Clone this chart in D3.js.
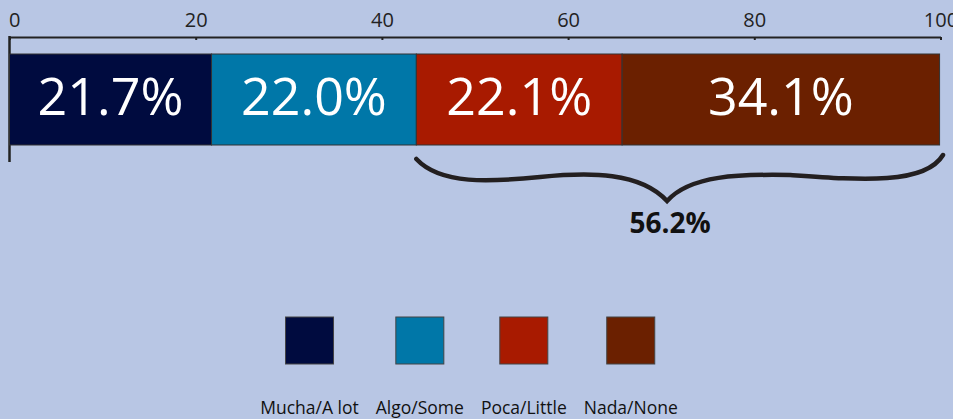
<!DOCTYPE html>
<html><head><meta charset="utf-8">
<script src="https://cdn.jsdelivr.net/npm/d3@7"></script>
<style>
html,body{margin:0;padding:0;background:#b8c6e4;}
svg{display:block;font-family:"Open Sans",sans-serif;}
</style></head>
<body><svg id="c" width="953" height="419"></svg>
<script>
const categories = ["Mucha/A lot","Algo/Some","Poca/Little","Nada/None"];
const values = [21.7, 22.0, 22.1, 34.1];
const colors = ["#000b3f","#0077a8","#a81a00","#6b2000"];
const tickValues = [0,20,40,60,80,100];
const braceLabel = "56.2%";

const svg = d3.select("#c");
const W = 953, H = 419;
svg.append("rect").attr("width",W).attr("height",H).attr("fill","#b8c6e4");

const x = d3.scaleLinear().domain([0,100]).range([9.5,940.5]);
const barTop = 54, barBot = 145;

let acc = 0;
const stack = values.map((v,i)=>{const s={cat:categories[i],v,x0:acc,x1:acc+v,c:colors[i]};acc+=v;return s;});

// axis
const axisG = svg.append("g").attr("transform","translate(0,37)");
const axis = d3.axisTop(x).tickValues(tickValues).tickSize(0).tickPadding(10).tickFormat(d3.format("d"));
axisG.call(axis);
axisG.select(".domain").attr("stroke","#222").attr("stroke-width",2);
axisG.selectAll(".tick line").remove();
axisG.selectAll(".tick").append("line").attr("y1",0).attr("y2",3).attr("stroke","#222").attr("stroke-width",2);
axisG.selectAll(".tick text").attr("font-size",20).attr("fill","#222").attr("font-family","'Open Sans',sans-serif");
axisG.selectAll(".tick text").filter(d=>d===0).attr("text-anchor","start").attr("x",-1);
svg.append("line").attr("x1",x(0)).attr("x2",x(0)).attr("y1",36).attr("y2",162).attr("stroke","#222").attr("stroke-width",2.5);

// bars
svg.append("g").selectAll("rect").data(stack).join("rect")
  .attr("x",d=>x(d.x0)).attr("width",d=>x(d.x1)-x(d.x0))
  .attr("y",barTop).attr("height",barBot-barTop)
  .attr("fill",d=>d.c).attr("stroke","#333").attr("stroke-width",1);
svg.append("g").selectAll("text").data(stack).join("text")
  .attr("x",d=>(x(d.x0)+x(d.x1))/2).attr("y",115)
  .attr("text-anchor","middle").attr("fill","#fff").attr("font-size",52)
  .text(d=>d.v.toFixed(1)+"%");

// brace over last two segments (relative to segment span)
const bx0 = x(stack[2].x0), bx1 = x(100) + 2.5, span = bx1 - bx0;
const X = f => bx0 + f*span;
const p = d3.path();
p.moveTo(X(0),159);
p.bezierCurveTo(X(0.046),185, X(0.140),182, X(0.235),177);
p.bezierCurveTo(X(0.330),172, X(0.425),172, X(0.476),201);
p.bezierCurveTo(X(0.520),175, X(0.615),174, X(0.710),175);
p.bezierCurveTo(X(0.843),180, X(0.966),185, X(1),155);
svg.append("path").attr("d",p.toString()).attr("fill","none").attr("stroke","#231f20")
  .attr("stroke-width",4.5).attr("stroke-linecap","round").attr("stroke-linejoin","miter");
svg.append("text").attr("x",670).attr("y",233).attr("text-anchor","middle")
  .attr("font-weight","bold").attr("font-size",28).attr("fill","#111").text(braceLabel);

// legend laid out by label widths
const lg = svg.append("g");
const items = lg.selectAll("g").data(stack).join("g");
items.append("text").attr("y",414).attr("text-anchor","middle").attr("font-size",17.5).attr("fill","#111").text(d=>d.cat);
const widths = [];
items.select("text").each(function(){widths.push(this.getComputedTextLength());});
const gap = 17;
const total = d3.sum(widths) + gap*(widths.length-1);
let cx = 469 - total/2;
const centers = widths.map(w=>{const c=cx+w/2; cx+=w+gap; return c;});
items.attr("transform",(d,i)=>`translate(${centers[i]},0)`);
items.append("rect").attr("x",-24).attr("y",317).attr("width",48).attr("height",47)
  .attr("fill",d=>d.c).attr("stroke","#444").attr("stroke-width",1);
</script></body></html>
